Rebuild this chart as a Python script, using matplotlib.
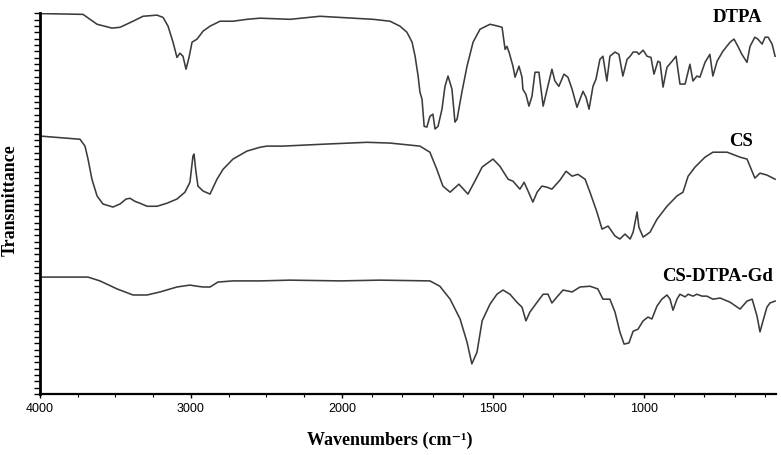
import numpy as np
import matplotlib
matplotlib.use("Agg")
import matplotlib.pyplot as plt
from matplotlib.ticker import FixedLocator, NullFormatter

# ---------------- data ----------------
dtpa_wn = [3982, 3715, 3622, 3523, 3470, 3384, 3318, 3225, 3185, 3152, 3119, 3093, 3073, 3053,
           3033, 3013, 2993, 2960, 2920, 2874, 2808, 2722, 2629, 2543, 2344, 2146, 2013, 1897,
           1841, 1808, 1785, 1768, 1758, 1748, 1742, 1735, 1728, 1719, 1709, 1699, 1692, 1682,
           1669, 1659, 1649, 1636, 1626, 1619, 1603, 1586, 1566, 1543, 1510, 1483, 1470, 1460,
           1454, 1447, 1434, 1427, 1414, 1404, 1401, 1391, 1381, 1371, 1361, 1348, 1334, 1321,
           1305, 1295, 1282, 1265, 1252, 1238, 1229, 1222, 1212, 1202, 1192, 1182, 1169, 1159,
           1146, 1136, 1123, 1113, 1096, 1083, 1070, 1056, 1046, 1036, 1023, 1017, 1003, 990,
           977, 967, 954, 947, 937, 924, 907, 894, 881, 864, 848, 838, 825, 815, 798, 782, 772,
           758, 739, 715, 702, 689, 676, 659, 649, 633, 623, 609, 599, 589, 576, 566]
dtpa_t = [99.9, 99.7, 97.1, 96.1, 96.3, 97.9, 99.2, 99.5, 98.9, 96.6, 92.4, 88.4, 89.5, 88.7,
          85.3, 88.4, 92.4, 93.2, 95.3, 96.6, 97.9, 97.9, 98.4, 98.7, 98.4, 99.2, 98.9, 98.4,
          97.9, 96.6, 95.0, 92.4, 88.7, 83.5, 79.3, 77.4, 70.3, 70.1, 72.9, 73.5, 69.6, 70.3,
          74.8, 80.8, 83.5, 80.1, 71.4, 72.2, 79.3, 86.1, 92.4, 95.8, 97.1, 96.6, 96.3, 90.5,
          91.3, 89.8, 86.1, 83.2, 86.1, 83.2, 80.0, 78.7, 75.6, 78.2, 84.5, 84.5, 75.6, 80.0,
          85.3, 82.2, 80.8, 84.0, 83.2, 80.0, 77.4, 75.3, 77.4, 79.5, 77.9, 74.8, 80.8, 82.7,
          87.9, 88.7, 82.2, 88.7, 89.8, 89.2, 83.5, 87.9, 88.7, 89.8, 89.8, 89.2, 90.3, 88.7,
          88.4, 84.0, 87.4, 87.1, 80.6, 85.8, 87.4, 88.7, 81.4, 81.4, 86.6, 82.2, 83.5, 83.2,
          87.1, 89.2, 83.5, 87.4, 90.0, 92.4, 93.2, 91.3, 89.2, 87.1, 91.3, 93.7, 93.2, 91.9,
          93.7, 93.7, 91.9, 88.7]

cs_wn = [3987, 3735, 3702, 3682, 3656, 3622, 3583, 3517, 3470, 3430, 3404, 3371, 3338, 3291,
         3225, 3159, 3093, 3040, 3007, 2987, 2980, 2967, 2954, 2920, 2874, 2828, 2788, 2722,
         2629, 2543, 2497, 2391, 2126, 1917, 1841, 1742, 1709, 1686, 1666, 1642, 1613, 1583,
         1560, 1536, 1500, 1477, 1450, 1434, 1411, 1397, 1384, 1368, 1354, 1338, 1321, 1305,
         1278, 1258, 1238, 1219, 1195, 1179, 1156, 1139, 1119, 1096, 1080, 1063, 1046, 1036,
         1023, 1017, 1003, 980, 957, 924, 891, 871, 854, 831, 798, 772, 725, 682, 659, 649,
         633, 616, 593, 566]
cs_t = [67.7, 66.9, 65.1, 61.7, 56.4, 52.0, 49.9, 49.1, 49.9, 51.2, 51.4, 50.6, 50.1, 49.3,
        49.3, 50.1, 51.2, 53.0, 55.6, 62.5, 63.0, 58.3, 54.6, 53.3, 52.5, 56.4, 59.0, 61.7,
        63.8, 64.8, 65.1, 65.1, 65.6, 66.1, 65.9, 65.1, 63.5, 59.0, 54.6, 53.0, 55.1, 52.5,
        55.9, 59.6, 61.7, 59.8, 56.4, 55.9, 53.8, 55.6, 53.3, 50.4, 53.0, 54.6, 54.3, 53.8,
        56.2, 58.5, 57.2, 57.7, 56.4, 53.0, 47.8, 43.3, 44.1, 41.5, 40.7, 42.0, 40.7, 42.5,
        47.8, 43.8, 41.2, 42.5, 45.9, 49.3, 52.0, 53.0, 57.2, 59.6, 62.2, 63.5, 63.5, 62.2,
        61.7, 59.8, 56.7, 58.0, 57.5, 56.4]

gd_wn = [3987, 3781, 3682, 3603, 3490, 3384, 3291, 3205, 3093, 3007, 2960, 2920, 2874, 2821,
         2722, 2543, 2344, 2013, 1874, 1709, 1676, 1642, 1609, 1586, 1570, 1553, 1536, 1510,
         1487, 1467, 1444, 1421, 1404, 1391, 1378, 1354, 1334, 1318, 1305, 1288, 1268, 1238,
         1212, 1179, 1153, 1136, 1113, 1096, 1080, 1066, 1050, 1036, 1020, 1003, 987, 974,
         957, 941, 924, 914, 904, 891, 881, 864, 854, 838, 825, 808, 792, 772, 748, 715, 682,
         659, 642, 626, 616, 606, 593, 583, 566]
gd_t = [30.7, 30.7, 30.7, 29.7, 27.6, 26.0, 26.0, 26.8, 28.1, 28.6, 28.3, 28.1, 28.1, 29.4,
        29.7, 29.7, 29.9, 29.7, 29.9, 29.7, 28.3, 24.9, 19.7, 13.6, 7.9, 11.0, 19.2, 23.6,
        26.2, 27.3, 26.2, 24.1, 22.8, 19.2, 21.5, 24.1, 26.2, 26.2, 23.9, 25.5, 27.3, 26.8,
        28.1, 28.3, 27.6, 24.9, 24.9, 21.5, 16.3, 13.1, 13.4, 16.5, 17.0, 19.2, 20.2, 19.7,
        23.1, 24.9, 26.0, 24.9, 22.0, 24.9, 26.2, 25.5, 26.2, 25.7, 26.2, 25.7, 25.7, 24.9,
        25.2, 24.1, 22.3, 24.4, 24.9, 20.5, 16.3, 19.2, 22.8, 23.9, 24.4]

series_labels = ["DTPA", "CS", "CS-DTPA-Gd"]
x_major = [4000, 3000, 2000, 1500, 1000]
x_labels = ["4000", "3000", "2000", "1500", "1000"]

# ---------------- figure ----------------
fig = plt.figure(figsize=(7.81, 4.56), dpi=100)
ax = fig.add_axes([0.0512, 0.1338, 0.9424, 0.835])


def fwd(w):
    w = np.asarray(w, dtype=float)
    return np.where(w >= 2000, w / 2.0 + 1000.0, w)


def inv(v):
    v = np.asarray(v, dtype=float)
    return np.where(v >= 2000, (v - 1000.0) * 2.0, v)


ax.set_xscale('function', functions=(fwd, inv))

line_kw = dict(color='#3c3c3c', lw=1.15, solid_joinstyle='round')
ax.plot(dtpa_wn, dtpa_t, **line_kw)
ax.plot(cs_wn, cs_t, **line_kw)
ax.plot(gd_wn, gd_t, **line_kw)

ax.set_xlim(4000, 563)
ax.set_ylim(0, 100)

for s in ['top', 'right']:
    ax.spines[s].set_visible(False)
ax.spines['left'].set_linewidth(2.0)
ax.spines['bottom'].set_linewidth(1.6)

ax.xaxis.set_major_locator(FixedLocator(x_major))
ax.set_xticklabels(x_labels, fontsize=9, family='Liberation Sans')
minor_x = [3750, 3500, 3250, 2750, 2500, 2250] + [w for w in range(1900, 563, -100)
                                                    if w not in (1500, 1000)]
ax.xaxis.set_minor_locator(FixedLocator(minor_x))
ax.xaxis.set_minor_formatter(NullFormatter())
ax.tick_params(axis='x', which='major', direction='out', length=3, width=1, pad=3)
ax.tick_params(axis='x', which='minor', direction='out', length=2, width=0.8)

ax.yaxis.set_major_locator(FixedLocator(np.linspace(0, 100, 61)))
ax.yaxis.set_major_formatter(NullFormatter())
ax.tick_params(axis='y', which='major', direction='out', length=4, width=1)

serif = ['Liberation Serif', 'DejaVu Serif']
fig.text(0.0128, 0.561, 'Transmittance', rotation=90, ha='center', va='center',
         fontsize=13, fontweight='bold', family=serif)
fig.text(390 / 781, 1 - 440 / 456, 'Wavenumbers (cm\u207b\u00b9)', ha='center', va='center',
         fontsize=13, fontweight='bold', family=serif)

label_pos = [(762 / 781, 1 - 17 / 456), (753 / 781, 1 - 142 / 456), (773 / 781, 1 - 277 / 456)]
for lab, (lx, ly) in zip(series_labels, label_pos):
    fig.text(lx, ly, lab, ha='right', va='center', fontsize=13.5, fontweight='bold',
             family=serif)

fig.savefig('out.png', dpi=100)
